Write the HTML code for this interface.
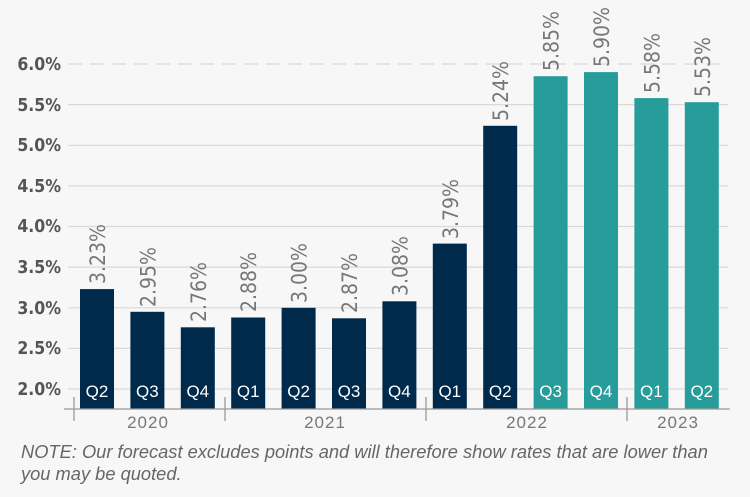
<!DOCTYPE html>
<html><head><style>
body{margin:0;background:#f7f7f7;}
</style></head><body>
<svg width="750" height="497" xmlns="http://www.w3.org/2000/svg" style="display:block;background:#f7f7f7">
<g stroke="#d9d9d9" stroke-width="1.2">
<line x1="68" x2="728" y1="64" y2="64" stroke-dasharray="14,8"/>
<line x1="68" x2="728" y1="104.6" y2="104.6"/>
<line x1="68" x2="728" y1="145.3" y2="145.3"/>
<line x1="68" x2="728" y1="185.9" y2="185.9"/>
<line x1="68" x2="728" y1="226.5" y2="226.5"/>
<line x1="68" x2="728" y1="267.1" y2="267.1"/>
<line x1="68" x2="728" y1="307.8" y2="307.8"/>
<line x1="68" x2="728" y1="348.4" y2="348.4"/>
<line x1="68" x2="728" y1="389" y2="389"/>
</g>
<g font-family="'DejaVu Sans Condensed','Liberation Sans Narrow','Liberation Sans',sans-serif" font-size="17.5" fill="#555" text-anchor="end" font-weight="bold">
<text x="61" y="70">6.0%</text><text x="61" y="111">5.5%</text><text x="61" y="151">5.0%</text><text x="61" y="192">4.5%</text><text x="61" y="232">4.0%</text><text x="61" y="273">3.5%</text><text x="61" y="314">3.0%</text><text x="61" y="354">2.5%</text><text x="61" y="395">2.0%</text>
</g>
<g fill="#002a4c">
<rect x="80" y="289.1" width="34" height="119.9"/>
<rect x="130.4" y="311.8" width="34" height="97.2"/>
<rect x="180.8" y="327.3" width="34" height="81.7"/>
<rect x="231.2" y="317.5" width="34" height="91.5"/>
<rect x="281.6" y="307.8" width="34" height="101.2"/>
<rect x="332" y="318.3" width="34" height="90.7"/>
<rect x="382.4" y="301.3" width="34" height="107.7"/>
<rect x="432.8" y="243.6" width="34" height="165.4"/>
<rect x="483.2" y="125.8" width="34" height="283.2"/>
</g>
<g fill="#279d9b">
<rect x="533.6" y="76.2" width="34" height="332.8"/>
<rect x="584" y="72.1" width="34" height="336.9"/>
<rect x="634.4" y="98.1" width="34" height="310.9"/>
<rect x="684.8" y="102.2" width="34" height="306.8"/>
</g>
<g font-family="'Liberation Sans',sans-serif" font-size="17" fill="#fff" text-anchor="middle">
<text x="97" y="397">Q2</text><text x="147.4" y="397">Q3</text><text x="197.8" y="397">Q4</text><text x="248.2" y="397">Q1</text><text x="298.6" y="397">Q2</text><text x="349" y="397">Q3</text><text x="399.4" y="397">Q4</text><text x="449.8" y="397">Q1</text><text x="500.2" y="397">Q2</text><text x="550.6" y="397">Q3</text><text x="601" y="397">Q4</text><text x="651.4" y="397">Q1</text><text x="701.8" y="397">Q2</text>
</g>
<g font-family="'DejaVu Sans Condensed','Liberation Sans Narrow',sans-serif" font-size="21" fill="#777">
<text transform="translate(105,284) rotate(-90)">3.23%</text>
<text transform="translate(155.4,307) rotate(-90)">2.95%</text>
<text transform="translate(205.8,322) rotate(-90)">2.76%</text>
<text transform="translate(256.2,312) rotate(-90)">2.88%</text>
<text transform="translate(306.6,303) rotate(-90)">3.00%</text>
<text transform="translate(357,313) rotate(-90)">2.87%</text>
<text transform="translate(407.4,296) rotate(-90)">3.08%</text>
<text transform="translate(457.8,239) rotate(-90)">3.79%</text>
<text transform="translate(508.2,121) rotate(-90)">5.24%</text>
<text transform="translate(558.6,71) rotate(-90)">5.85%</text>
<text transform="translate(609,67) rotate(-90)">5.90%</text>
<text transform="translate(659.4,93) rotate(-90)">5.58%</text>
<text transform="translate(709.8,97) rotate(-90)">5.53%</text>
</g>
<line x1="64" x2="730" y1="409" y2="409" stroke="#999" stroke-width="1.3"/>
<g stroke="#999" stroke-width="1.3">
<line x1="74" x2="74" y1="397" y2="421"/><line x1="225" x2="225" y1="397" y2="421"/><line x1="426" x2="426" y1="397" y2="421"/><line x1="627" x2="627" y1="397" y2="421"/>
</g>
<g font-family="'Liberation Sans',sans-serif" font-size="17" fill="#777" text-anchor="middle" letter-spacing="1">
<text x="148" y="428">2020</text><text x="325" y="428">2021</text><text x="527" y="428">2022</text><text x="678" y="428">2023</text>
</g>
<g font-family="'Liberation Sans',sans-serif" font-size="18.3" fill="#666" font-style="italic">
<text x="21" y="458">NOTE: Our forecast excludes points and will therefore show rates that are lower than</text>
<text x="21" y="480">you may be quoted.</text>
</g>
</svg>
</body></html>
